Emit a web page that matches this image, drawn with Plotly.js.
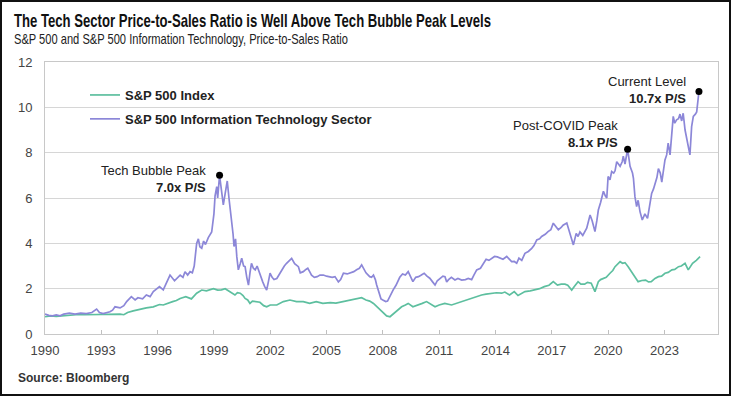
<!DOCTYPE html>
<html>
<head>
<meta charset="utf-8">
<script src="https://cdn.plot.ly/plotly-3.0.1.min.js"></script>
<style>
html,body{margin:0;padding:0;background:#fff;}
#frame{width:727px;height:392px;border:2px solid #111;}
</style>
</head>
<body>
<div id="frame"><div id="chart"></div></div>
<script>
// ---- Data ----
const itDates = [1990.0,1990.2,1990.4,1990.6,1990.8,1991.0,1991.3,1991.6,1991.9,1992.2,1992.5,1992.75,1992.9,1993.1,1993.46,1993.6,1993.73,1994.0,1994.2,1994.35,1994.6,1994.8,1994.95,1995.2,1995.4,1995.6,1995.77,1995.95,1996.1,1996.3,1996.5,1996.66,1996.9,1997.05,1997.2,1997.35,1997.46,1997.6,1997.73,1997.85,1997.95,1998.08,1998.17,1998.25,1998.35,1998.45,1998.55,1998.7,1998.88,1999.0,1999.06,1999.15,1999.2,1999.3,1999.4,1999.5,1999.6,1999.71,1999.8,1999.86,1999.95,2000.02,2000.07,2000.15,2000.22,2000.3,2000.4,2000.48,2000.58,2000.66,2000.75,2000.84,2000.92,2001.0,2001.1,2001.2,2001.3,2001.45,2001.6,2001.7,2001.81,2001.9,2001.99,2002.1,2002.2,2002.35,2002.5,2002.6,2002.75,2002.87,2003.0,2003.14,2003.3,2003.5,2003.6,2003.76,2003.9,2004.0,2004.1,2004.2,2004.35,2004.5,2004.65,2004.83,2005.0,2005.18,2005.3,2005.45,2005.63,2005.75,2005.9,2006.1,2006.25,2006.45,2006.6,2006.75,2006.87,2007.0,2007.1,2007.3,2007.4,2007.5,2007.6,2007.67,2007.8,2007.9,2008.0,2008.15,2008.25,2008.4,2008.55,2008.7,2008.9,2009.05,2009.2,2009.35,2009.5,2009.6,2009.75,2009.9,2010.05,2010.2,2010.35,2010.5,2010.65,2010.78,2010.9,2011.05,2011.2,2011.31,2011.4,2011.5,2011.65,2011.84,2012.0,2012.2,2012.4,2012.55,2012.73,2012.85,2013.0,2013.2,2013.35,2013.5,2013.65,2013.8,2013.95,2014.1,2014.25,2014.4,2014.6,2014.75,2014.86,2015.0,2015.13,2015.25,2015.4,2015.57,2015.75,2015.93,2016.05,2016.2,2016.35,2016.46,2016.65,2016.8,2016.95,2017.08,2017.2,2017.35,2017.5,2017.6,2017.8,2017.97,2018.15,2018.3,2018.4,2018.5,2018.65,2018.86,2019.04,2019.15,2019.3,2019.4,2019.48,2019.6,2019.66,2019.75,2019.85,2019.93,2020.0,2020.1,2020.19,2020.3,2020.37,2020.46,2020.55,2020.64,2020.75,2020.81,2020.9,2021.04,2021.17,2021.3,2021.35,2021.43,2021.52,2021.6,2021.7,2021.82,2021.96,2022.1,2022.2,2022.32,2022.42,2022.5,2022.6,2022.68,2022.78,2022.86,2022.95,2023.03,2023.12,2023.2,2023.3,2023.4,2023.47,2023.55,2023.65,2023.75,2023.83,2023.92,2024.0,2024.1,2024.2,2024.27,2024.36,2024.45,2024.54,2024.65,2024.72,2024.84];
const itValues = [0.88,0.82,0.80,0.84,0.80,0.88,0.92,0.88,0.92,0.90,0.95,1.10,0.95,0.90,0.98,1.05,1.20,1.15,1.25,1.43,1.65,1.50,1.60,1.55,1.72,1.65,1.87,2.0,2.09,1.95,2.3,2.6,2.35,2.5,2.6,2.5,2.75,2.6,2.75,2.7,3.0,4.0,4.2,3.85,3.78,4.1,3.95,4.25,4.5,5.3,6.1,6.5,6.0,7.0,6.3,5.7,6.2,6.75,6.0,5.6,5.0,4.4,3.86,4.2,3.4,2.83,3.1,3.34,3.0,2.97,2.5,2.16,2.7,3.12,2.9,2.83,3.0,2.6,2.3,2.1,1.94,2.3,2.68,2.5,2.4,2.45,2.65,2.83,3.0,3.12,3.25,3.34,3.1,2.97,2.7,2.75,2.85,2.9,2.75,2.6,2.5,2.53,2.6,2.6,2.55,2.53,2.5,2.53,2.3,2.4,2.68,2.65,2.68,2.75,2.83,2.9,3.05,2.85,2.7,2.53,2.5,2.6,2.4,2.16,1.85,1.55,1.5,1.43,1.45,1.72,1.95,2.15,2.5,2.65,2.6,2.75,2.45,2.31,2.5,2.53,2.6,2.68,2.55,2.46,2.3,2.16,2.35,2.46,2.55,2.53,2.3,2.4,2.5,2.38,2.45,2.38,2.4,2.45,2.4,2.6,2.83,2.9,3.1,3.3,3.25,3.35,3.42,3.4,3.35,3.3,3.42,3.3,3.19,3.2,3.12,3.35,3.25,3.56,3.64,3.78,3.9,4.15,4.2,4.3,4.4,4.52,4.6,4.89,4.75,4.6,4.7,4.8,4.9,4.37,3.93,4.44,4.3,4.5,4.35,4.67,5.25,5.0,4.52,5.0,5.47,5.8,6.0,6.3,6.1,6.0,6.95,6.8,7.17,7.1,7.2,7.6,7.5,7.4,7.6,7.85,7.5,8.15,7.4,7.1,6.87,6.06,5.62,5.9,5.4,5.03,5.3,5.1,5.6,6.2,6.4,6.65,6.9,7.3,7.1,6.7,7.2,7.68,7.9,8.42,7.9,8.8,9.6,9.3,9.45,9.5,9.7,9.4,9.74,9.0,8.6,8.27,7.9,9.15,9.6,9.7,9.8,10.7];

const spDates = [1990.0,1990.3,1990.6,1990.9,1991.2,1991.5,1991.8,1992.1,1992.5,1992.9,1993.2,1993.6,1994.0,1994.2,1994.4,1994.7,1995.06,1995.4,1995.77,1996.1,1996.3,1996.5,1996.8,1997.0,1997.2,1997.5,1997.65,1997.8,1998.08,1998.35,1998.6,1998.8,1998.97,1999.2,1999.4,1999.6,1999.86,2000.12,2000.25,2000.4,2000.55,2000.66,2000.8,2000.92,2001.05,2001.2,2001.45,2001.65,2001.81,2002.0,2002.35,2002.7,2003.05,2003.4,2003.76,2004.1,2004.45,2004.8,2005.2,2005.5,2005.9,2006.25,2006.6,2006.87,2007.1,2007.3,2007.5,2007.7,2007.85,2008.0,2008.2,2008.38,2008.5,2008.65,2008.85,2009.0,2009.2,2009.35,2009.6,2009.9,2010.1,2010.33,2010.55,2010.78,2011.0,2011.3,2011.66,2011.9,2012.2,2012.45,2012.73,2013.0,2013.26,2013.5,2013.8,2014.05,2014.33,2014.5,2014.75,2014.9,2015.0,2015.2,2015.4,2015.57,2015.85,2016.1,2016.35,2016.6,2016.85,2017.08,2017.3,2017.5,2017.7,2017.85,2018.06,2018.2,2018.4,2018.55,2018.75,2018.9,2019.1,2019.3,2019.48,2019.6,2019.75,2019.9,2020.1,2020.25,2020.37,2020.5,2020.64,2020.77,2020.9,2021.07,2021.2,2021.35,2021.5,2021.6,2021.8,2022.0,2022.15,2022.3,2022.5,2022.68,2022.85,2023.03,2023.2,2023.4,2023.55,2023.75,2023.9,2024.1,2024.27,2024.5,2024.7,2024.9];
const spValues = [0.76,0.80,0.78,0.80,0.85,0.84,0.86,0.85,0.86,0.88,0.88,0.90,0.88,0.85,0.95,1.02,1.10,1.15,1.20,1.30,1.28,1.35,1.43,1.48,1.57,1.65,1.60,1.55,1.80,1.94,1.90,1.95,2.00,1.94,1.95,2.00,1.87,1.72,1.82,1.80,1.70,1.57,1.50,1.35,1.45,1.43,1.40,1.25,1.20,1.28,1.28,1.43,1.50,1.43,1.43,1.35,1.43,1.35,1.38,1.36,1.43,1.50,1.57,1.60,1.50,1.45,1.35,1.20,1.06,0.95,0.80,0.76,0.85,0.98,1.10,1.20,1.28,1.35,1.20,1.28,1.35,1.43,1.30,1.20,1.28,1.35,1.28,1.35,1.43,1.50,1.57,1.65,1.72,1.76,1.80,1.82,1.80,1.85,1.72,1.80,1.87,1.70,1.80,1.87,1.90,1.94,2.00,2.09,2.15,2.31,2.16,2.20,2.20,2.15,1.94,2.10,2.31,2.20,2.20,2.28,2.24,1.87,2.31,2.40,2.46,2.50,2.68,2.80,2.97,3.10,3.19,3.12,3.15,2.97,2.80,2.60,2.40,2.31,2.36,2.38,2.30,2.31,2.45,2.53,2.55,2.68,2.72,2.83,2.85,2.97,3.00,3.12,2.83,3.12,3.25,3.41];

const peakDates = [1999.3, 2021.04, 2024.84];
const peakValues = [7.0, 8.15, 10.7];
const peakNames = ["Tech Bubble Peak", "Post-COVID Peak", "Current Level"];
const peakLabels = ["7.0x P/S", "8.1x P/S", "10.7x P/S"];
const yearTicks = [1990,1993,1996,1999,2002,2005,2008,2011,2014,2017,2020,2023];
const seriesNames = ["S&P 500 Index", "S&P 500 Information Technology Sector"];
const titleText = "The Tech Sector Price-to-Sales Ratio is Well Above Tech Bubble Peak Levels";
const subtitleText = "S&P 500 and S&P 500 Information Technology, Price-to-Sales Ratio";
const sourceText = "Source: Bloomberg";

// ---- Layout helpers ----
const FONT = "Arial, 'Liberation Sans', sans-serif";
const L = 45, R = 718, T = 62, B = 334; // plot box in page pixels
const px = x => (x - L) / (R - L);
const py = y => (B - y) / (B - T);

const traces = [
  {x: spDates, y: spValues, type: 'scatter', mode: 'lines', name: seriesNames[0],
   line: {color: '#5dbf9f', width: 1.7}, legendgroup: 'a'},
  {x: itDates, y: itValues, type: 'scatter', mode: 'lines', name: seriesNames[1],
   line: {color: '#8c87d8', width: 1.7}, legendgroup: 'b'},
  {x: peakDates, y: peakValues, type: 'scatter', mode: 'markers', showlegend: false,
   marker: {color: '#000', size: 7}, hoverinfo: 'skip'}
];

const textOffsets = [[-0.6, -0.15], [-0.38, 0.69], [-0.6, 0.05]];
const annotations = [
  {text: titleText,
   xref: 'paper', yref: 'paper', x: px(12), y: py(20), xanchor: 'left', yanchor: 'middle', align: 'left',
   showarrow: false, font: {family: FONT, size: 19, color: '#111', weight: 'bold'}},
  {text: subtitleText,
   xref: 'paper', yref: 'paper', x: px(12), y: py(39), xanchor: 'left', yanchor: 'middle', align: 'left',
   showarrow: false, font: {family: FONT, size: 14.5, color: '#222'}},
  {text: "<b>" + sourceText + "</b>",
   xref: 'paper', yref: 'paper', x: px(16), y: py(378), xanchor: 'left', yanchor: 'middle',
   showarrow: false, font: {family: FONT, size: 12, color: '#333'}}
];
peakDates.forEach((d, i) => {
  annotations.push({
    text: peakNames[i] + "<br><b>" + peakLabels[i] + "</b>",
    xref: 'x', yref: 'y', x: d + textOffsets[i][0], y: peakValues[i] + textOffsets[i][1],
    xanchor: 'right', yanchor: 'middle', align: 'right', showarrow: false,
    font: {family: FONT, size: 13, color: '#222'}
  });
});

const layout = {
  width: 727, height: 392,
  margin: {l: L - 2, r: 731 - R - 2, t: T - 2, b: 396 - B - 2},
  paper_bgcolor: '#fff', plot_bgcolor: '#fff',
  font: {family: FONT, size: 13, color: '#444'},
  showlegend: true,
  legend: {x: px(85), y: py(80), xanchor: 'left', yanchor: 'top',
    bgcolor: 'rgba(0,0,0,0)', tracegroupgap: 4, traceorder: 'grouped',
    font: {family: FONT, size: 13, color: '#222', weight: 'bold'}},
  xaxis: {range: [1990, 1990 + (R - L) / 18.77], tickvals: yearTicks,
    ticktext: yearTicks.map(String), ticks: 'inside', ticklen: 4, tickcolor: '#c0c0c0',
    showgrid: false, zeroline: false, showline: true, linecolor: '#c8c8c8', mirror: true,
    ticklabelstandoff: 4, tickfont: {family: FONT, size: 13, color: '#444'}},
  yaxis: {range: [0, 12], dtick: 2, tick0: 0, showgrid: true, gridcolor: '#d6d6d6',
    zeroline: false, showline: true, linecolor: '#c8c8c8', mirror: true, ticks: '',
    ticklabelstandoff: 9, tickfont: {family: FONT, size: 13, color: '#444'}},
  annotations: annotations
};

Plotly.newPlot('chart', traces, layout, {displayModeBar: false, staticPlot: true}).then(gd => {
  // condensed headline lettering, as in the reference
  const texts = gd.querySelectorAll('.annotation-text');
  const fit = [[0, 477], [1, 334]];
  fit.forEach(([i, w]) => {
    if (texts[i]) {
      texts[i].setAttribute('textLength', w);
      texts[i].setAttribute('lengthAdjust', 'spacingAndGlyphs');
    }
  });
});
</script>
</body>
</html>
